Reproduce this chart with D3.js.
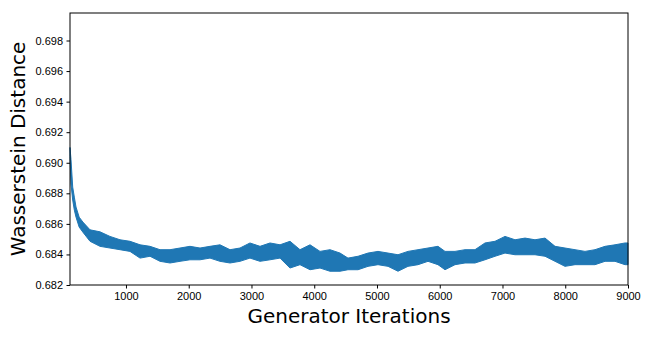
<!DOCTYPE html>
<html>
<head>
<meta charset="utf-8">
<script src="https://cdn.jsdelivr.net/npm/d3@7"></script>
<style>
  body { margin: 0; background: #fff; }
  svg { display: block; font-family: "DejaVu Sans", sans-serif; }
  .tick text { font-size: 11px; fill: #000; }
  .tick line { stroke: #000; }
</style>
</head>
<body>
<svg id="chart" width="657" height="337"></svg>
<script>
// generator iteration at which each band sample was read
var iterations = [108, 124, 151, 177, 204, 254, 313, 427, 586, 745, 905, 1064, 1224, 1383, 1542, 1702, 1861,
  2020, 2180, 2339, 2498, 2658, 2817, 2976, 3136, 3295, 3455, 3614, 3773, 3933, 4092, 4251, 4411,
  4538, 4698, 4857, 5016, 5176, 5335, 5494, 5654, 5813, 5972, 6084, 6243, 6403, 6562, 6721, 6881,
  7040, 7200, 7359, 7518, 7678, 7837, 7996, 8156, 8315, 8474, 8634, 8793, 8952, 9000];
// lower edge of the noisy distance trace
var distLow = [0.6904, 0.6886, 0.68756, 0.68690, 0.68644, 0.68579, 0.68546, 0.68486, 0.68453, 0.68442, 0.68431, 0.68420, 0.68376, 0.68388, 0.68355, 0.68344, 0.68355,
  0.68365, 0.68365, 0.68376, 0.68355, 0.68344, 0.68355, 0.68376, 0.68355, 0.68365, 0.68376, 0.68311, 0.68333, 0.68300, 0.68311, 0.68290, 0.68290,
  0.68300, 0.68300, 0.68322, 0.68333, 0.68322, 0.68290, 0.68322, 0.68333, 0.68355, 0.68333, 0.68300, 0.68333, 0.68344, 0.68344, 0.68365, 0.68388,
  0.68409, 0.68398, 0.68398, 0.68398, 0.68388, 0.68355, 0.68322, 0.68333, 0.68333, 0.68333, 0.68355, 0.68355, 0.68333, 0.68333];
// upper edge of the noisy distance trace
var distHigh = [0.6910, 0.6902, 0.68841, 0.68775, 0.68710, 0.68644, 0.68612, 0.68561, 0.68548, 0.68518, 0.68496, 0.68486, 0.68463, 0.68453, 0.68431, 0.68431, 0.68442,
  0.68453, 0.68442, 0.68453, 0.68463, 0.68431, 0.68442, 0.68475, 0.68453, 0.68475, 0.68463, 0.68486, 0.68431, 0.68463, 0.68420, 0.68431, 0.68409,
  0.68376, 0.68388, 0.68409, 0.68420, 0.68409, 0.68398, 0.68420, 0.68431, 0.68442, 0.68453, 0.68420, 0.68420, 0.68431, 0.68431, 0.68475, 0.68486,
  0.68518, 0.68496, 0.68507, 0.68496, 0.68507, 0.68453, 0.68442, 0.68431, 0.68420, 0.68431, 0.68453, 0.68463, 0.68475, 0.68475];
var xTicks = [1000, 2000, 3000, 4000, 5000, 6000, 7000, 8000, 9000];
var yTicks = [0.682, 0.684, 0.686, 0.688, 0.690, 0.692, 0.694, 0.696, 0.698];

var svg = d3.select("#chart");
var plotLeft = 70, plotTop = 13, plotRight = 628, plotBottom = 285;

var x = d3.scaleLinear().domain([108, 9000]).range([plotLeft, plotRight]);
var y = d3.scaleLinear().domain([0.682, 0.6998]).range([plotBottom, plotTop]);

var band = iterations.map(function (it, i) { return { it: it, lo: distLow[i], hi: distHigh[i] }; });

var area = d3.area()
    .x(function (d) { return x(d.it); })
    .y0(function (d) { return y(d.lo); })
    .y1(function (d) { return y(d.hi); });

svg.append("path")
    .datum(band)
    .attr("fill", "#1f77b4")
    .attr("stroke", "#1f77b4")
    .attr("stroke-width", 1)
    .attr("stroke-linejoin", "round")
    .attr("d", area);

svg.append("g")
    .attr("transform", "translate(0," + plotBottom + ")")
    .call(d3.axisBottom(x).tickValues(xTicks).tickFormat(d3.format("d")).tickSizeOuter(0).tickSize(3.5).tickPadding(4));
svg.append("g")
    .attr("transform", "translate(" + plotLeft + ",0)")
    .call(d3.axisLeft(y).tickValues(yTicks).tickFormat(d3.format(".3f")).tickSizeOuter(0).tickSize(3.5).tickPadding(3.5));
svg.selectAll(".domain").remove();

// frame
svg.append("rect")
    .attr("x", plotLeft).attr("y", plotTop)
    .attr("width", plotRight - plotLeft).attr("height", plotBottom - plotTop)
    .attr("fill", "none").attr("stroke", "#000").attr("stroke-width", 1);

svg.append("text")
    .attr("x", (plotLeft + plotRight) / 2).attr("y", 323)
    .attr("text-anchor", "middle")
    .style("font-size", "20px")
    .text("Generator Iterations");

svg.append("text")
    .attr("transform", "translate(25," + (plotTop + plotBottom) / 2 + ") rotate(-90)")
    .attr("text-anchor", "middle")
    .style("font-size", "20px")
    .text("Wasserstein Distance");
</script>
</body>
</html>
